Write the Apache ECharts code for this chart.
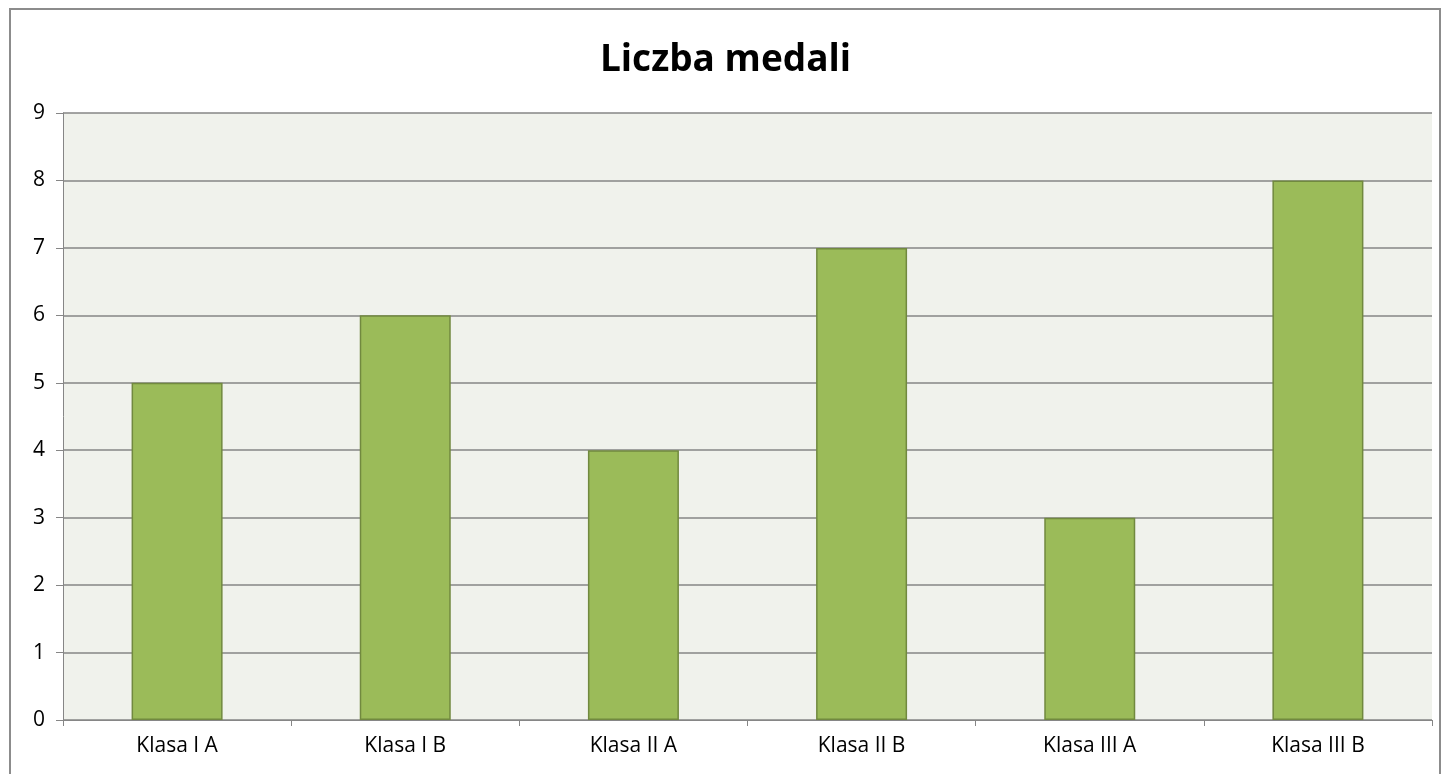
<!DOCTYPE html>
<html><head><meta charset="utf-8">
<script src="https://cdn.jsdelivr.net/npm/echarts@6/dist/echarts.min.js"></script>
<style>
html,body{margin:0;padding:0;background:#fff;}
#frame{position:absolute;left:9px;top:8px;width:1432px;height:780px;border:2px solid #8c8c8c;box-sizing:border-box;}
#c{position:absolute;left:0;top:0;width:1451px;height:774px;}
</style></head>
<body>
<div id="frame"></div>
<div id="c"></div>
<script>
const categories = ['Klasa I A','Klasa I B','Klasa II A','Klasa II B','Klasa III A','Klasa III B'];
const medals = [5,6,4,7,3,8];
const yTicks = [0,1,2,3,4,5,6,7,8,9];
const FONT = 'Open Sans, Liberation Sans, sans-serif';
const chart = echarts.init(document.getElementById('c'), null, {renderer:'canvas'});
chart.setOption({
  animation:false,
  title:{text:'Liczba medali',left:'center',top:37,textStyle:{fontFamily:FONT,fontSize:37,fontWeight:'bold',color:'#000'}},
  grid:{left:63,right:19,top:113,bottom:54,show:true,backgroundColor:'#F0F2EC',borderWidth:0},
  xAxis:{type:'category',data:categories,
    axisLine:{lineStyle:{color:'#868686',width:1}},
    axisTick:{show:true,length:6,lineStyle:{color:'#868686'}},
    axisLabel:{fontFamily:FONT,fontSize:21,color:'#000',margin:16}},
  yAxis:{type:'value',min:yTicks[0],max:yTicks[yTicks.length-1],interval:1,
    axisLine:{show:true,lineStyle:{color:'#868686',width:1}},
    axisTick:{show:true,length:7,lineStyle:{color:'#868686'}},
    splitLine:{show:true,lineStyle:{color:'#868686',width:1.5}},
    axisLabel:{fontFamily:FONT,fontSize:21,color:'#000',margin:18}},
  series:[{type:'bar',data:medals,barWidth:91,
    itemStyle:{color:'#9BBB59',borderColor:'#71893F',borderWidth:1.5}}]
});
</script>
</body></html>
